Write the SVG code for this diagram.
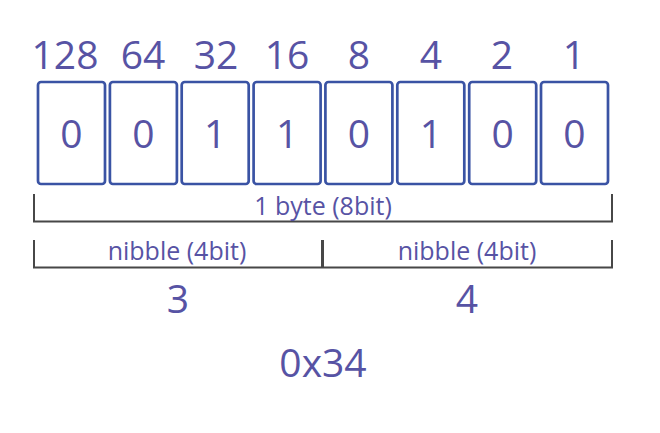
<svg xmlns="http://www.w3.org/2000/svg" width="660" height="433" viewBox="0 0 660 433">
<style>
.box{fill:#ffffff;stroke:#3a53a4;stroke-width:2.7}
.big{font-family:"Open Sans","Liberation Sans",sans-serif;font-size:39px;fill:#5753a4;text-anchor:middle}
.small{font-family:"Open Sans","Liberation Sans",sans-serif;font-size:25px;fill:#5753a4;text-anchor:middle}
.br{fill:none;stroke:#474747;stroke-width:2}
</style>
<rect width="660" height="433" fill="#ffffff"/>
<g id="weights">
<text class="big" x="65" y="69">128</text>
<text class="big" x="143" y="69">64</text>
<text class="big" x="216" y="69">32</text>
<text class="big" x="287" y="69">16</text>
<text class="big" x="359" y="69">8</text>
<text class="big" x="431" y="69">4</text>
<text class="big" x="502" y="69">2</text>
<text class="big" x="574" y="69">1</text>
</g>
<g id="bit7"><rect class="box" x="38" y="82" width="67" height="102" rx="3"/><text class="big" x="71.5" y="148">0</text></g>
<g id="bit6"><rect class="box" x="109.9" y="82" width="67" height="102" rx="3"/><text class="big" x="143.4" y="148">0</text></g>
<g id="bit5"><rect class="box" x="181.7" y="82" width="67" height="102" rx="3"/><text class="big" x="215.2" y="148">1</text></g>
<g id="bit4"><rect class="box" x="253.6" y="82" width="67" height="102" rx="3"/><text class="big" x="287.1" y="148">1</text></g>
<g id="bit3"><rect class="box" x="325.4" y="82" width="67" height="102" rx="3"/><text class="big" x="358.9" y="148">0</text></g>
<g id="bit2"><rect class="box" x="397.3" y="82" width="67" height="102" rx="3"/><text class="big" x="430.8" y="148">1</text></g>
<g id="bit1"><rect class="box" x="469.2" y="82" width="67" height="102" rx="3"/><text class="big" x="502.7" y="148">0</text></g>
<g id="bit0"><rect class="box" x="541" y="82" width="67" height="102" rx="3"/><text class="big" x="574.5" y="148">0</text></g>
<g id="connectors">
<path class="br" d="M34,194 V221.5 H612 V194"/>
<path class="br" d="M34,240 V267.5 H612 V240"/>
<line x1="322.5" y1="240" x2="322.5" y2="267.5" stroke="#474747" stroke-width="3"/>
</g>
<g id="byte"><text class="small" x="323" y="215">1 byte (8bit)</text></g>
<g id="nibble-high"><text class="small" x="177" y="260">nibble (4bit)</text><text class="big" x="178" y="313">3</text></g>
<g id="nibble-low"><text class="small" x="467" y="260">nibble (4bit)</text><text class="big" x="467" y="313">4</text></g>
<g id="hex"><text class="big" x="323" y="377">0x34</text></g>
</svg>
